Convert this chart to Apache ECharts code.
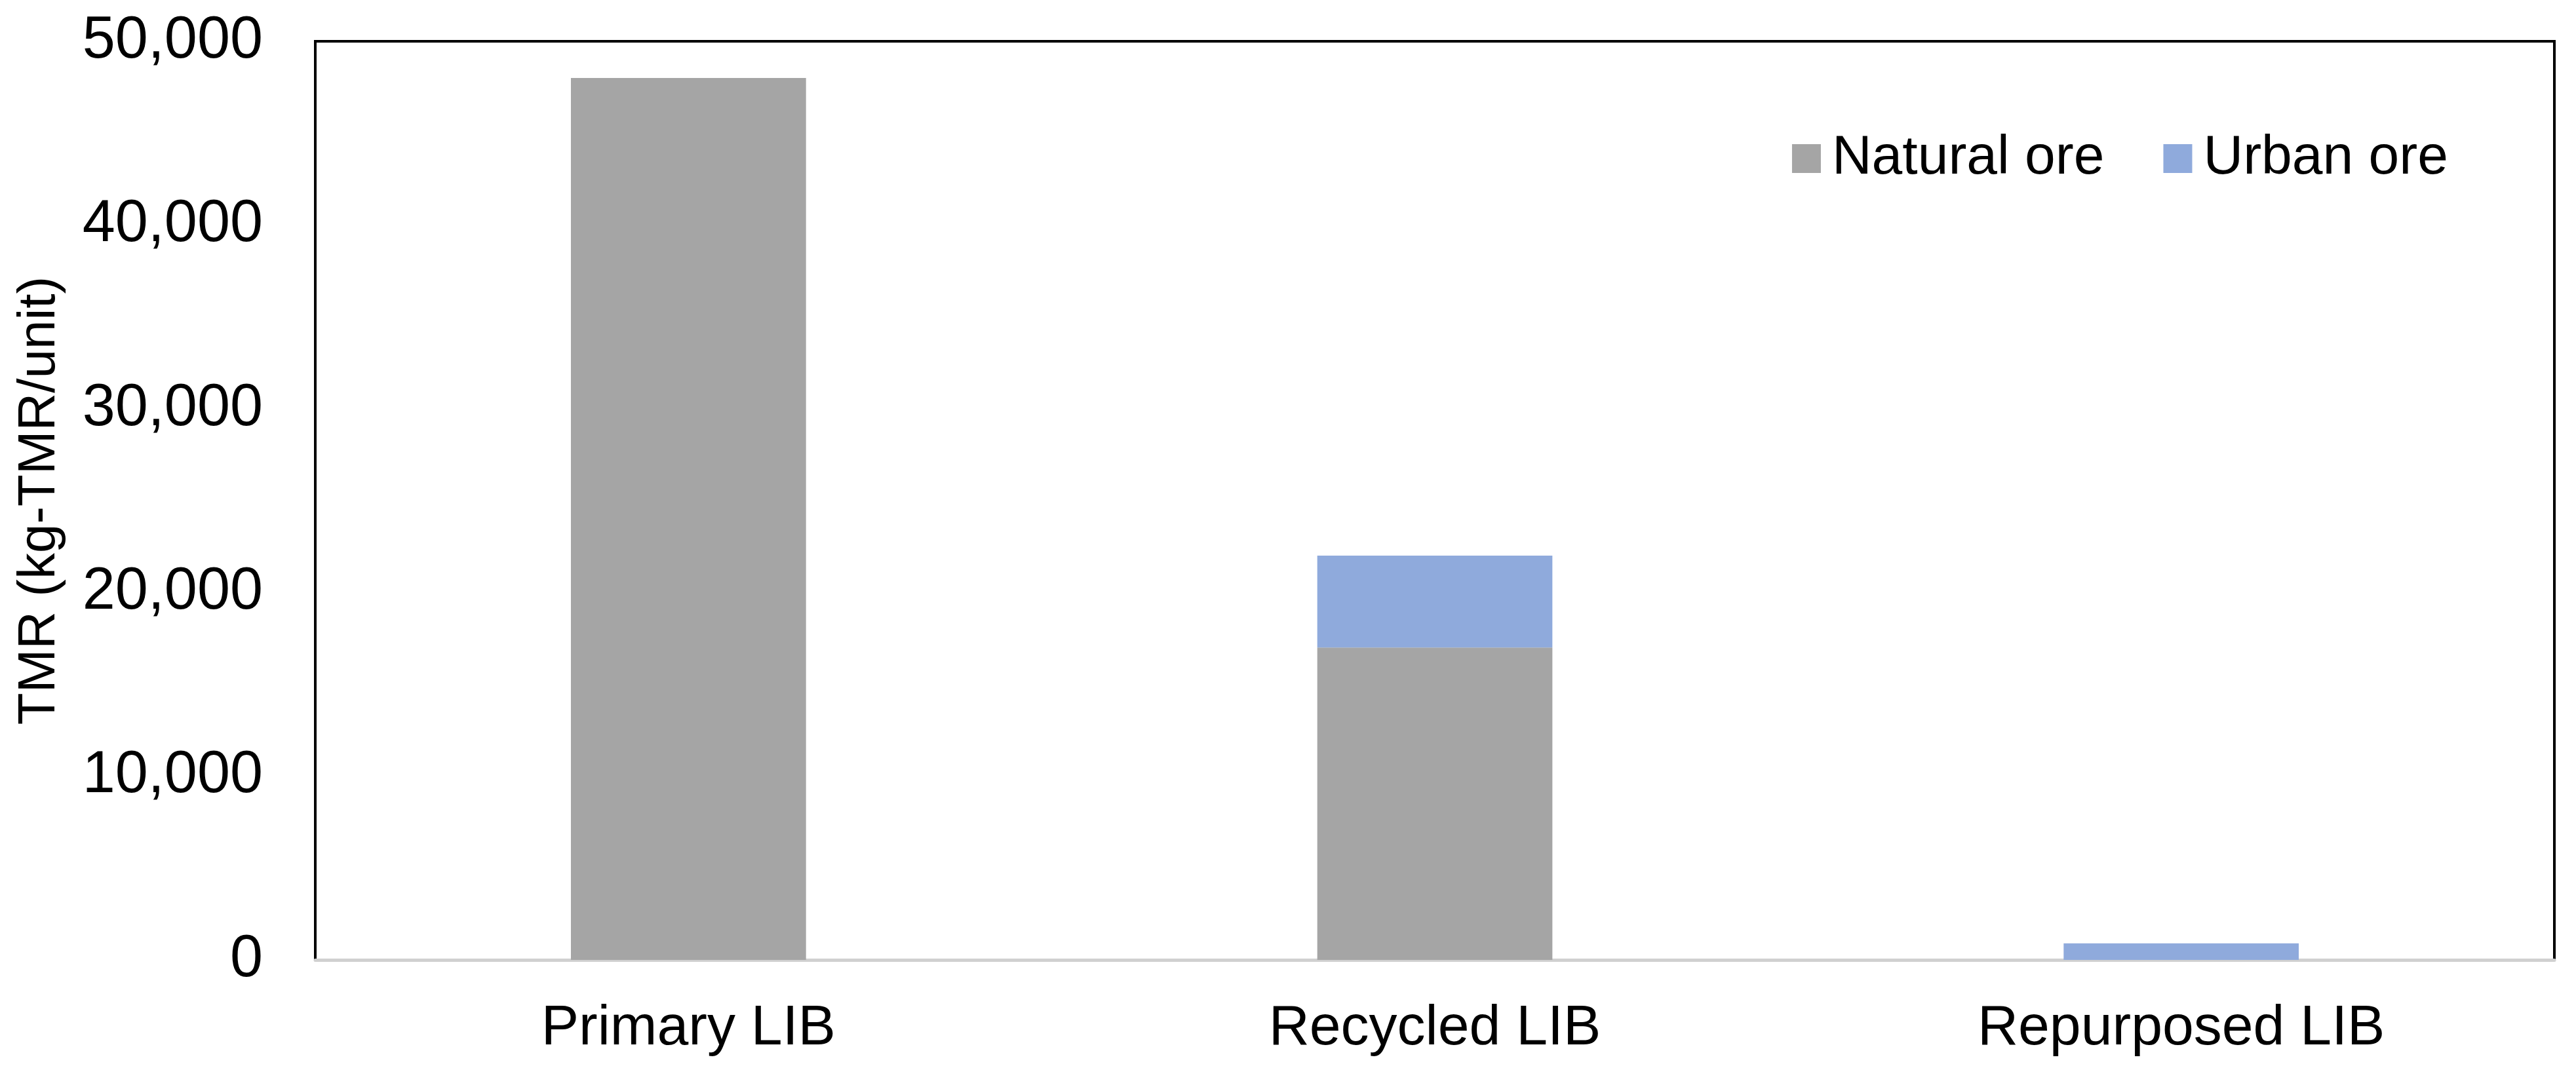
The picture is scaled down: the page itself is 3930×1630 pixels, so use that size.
<!DOCTYPE html><html><head><meta charset="utf-8"><script src="https://cdn.jsdelivr.net/npm/echarts@6/dist/echarts.min.js"></script>
<style>html,body{margin:0;background:#fff}#c{width:3930px;height:1630px}</style></head><body><div id="c"></div><script>
const categories=['Primary LIB','Recycled LIB','Repurposed LIB'];
const naturalOre=[48000,17000,0];
const urbanOre=[0,5000,900];
const yTicks=[0,10000,20000,30000,40000,50000];
const F='Arial, "Liberation Sans", sans-serif';
const chart=echarts.init(document.getElementById('c'));
chart.setOption({
 animation:false,
 grid:{left:481,right:33,top:63,bottom:165,show:true,borderColor:'#000',borderWidth:4,backgroundColor:'#fff'},
 legend:{right:190,top:195,itemWidth:44,itemHeight:44,itemGap:90,icon:'rect',textStyle:{fontFamily:F,fontSize:84,color:'#000',padding:[0,0,0,12]},data:['Natural ore','Urban ore']},
 xAxis:{type:'category',data:categories,axisTick:{show:false},axisLine:{lineStyle:{color:'#d0d0d0',width:5}},axisLabel:{fontFamily:F,fontSize:86,color:'#000',margin:62}},
 yAxis:{type:'value',min:yTicks[0],max:yTicks[yTicks.length-1],interval:10000,splitLine:{show:false},
  axisLine:{show:true,lineStyle:{color:'#000',width:4}},axisTick:{show:false},
  axisLabel:{fontFamily:F,fontSize:90,color:'#000',margin:80,formatter:v=>v.toLocaleString('en-US')},
  name:'TMR (kg-TMR/unit)',nameLocation:'middle',nameGap:380,nameTextStyle:{fontFamily:F,fontSize:80,color:'#000'}},
 series:[
  {name:'Natural ore',type:'bar',stack:'t',data:naturalOre,barWidth:'31.5%',itemStyle:{color:'#a5a5a5'}},
  {name:'Urban ore',type:'bar',stack:'t',data:urbanOre,barWidth:'31.5%',itemStyle:{color:'#8faadc'}}
 ]
});
</script></body></html>
